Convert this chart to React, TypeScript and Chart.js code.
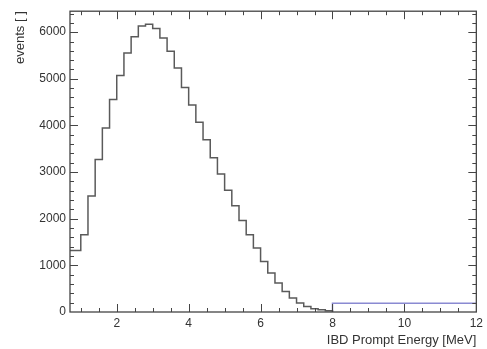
import React, { useEffect, useRef } from "react";
import { Chart, registerables } from "chart.js";
Chart.register(...registerables);

// Histogram bin edges (MeV) and counts
const binEdges = [0.7, 1.0, 1.2, 1.4, 1.6, 1.8, 2.0, 2.2, 2.4, 2.6, 2.8, 3.0, 3.2, 3.4, 3.6, 3.8, 4.0, 4.2, 4.4, 4.6, 4.8, 5.0, 5.2, 5.4, 5.6, 5.8, 6.0, 6.2, 6.4, 6.6, 6.8, 7.0, 7.2, 7.4, 7.6, 7.8, 8.0];
const binCounts = [1320, 1657, 2490, 3270, 3946, 4554, 5069, 5552, 5900, 6135, 6170, 6077, 5878, 5590, 5234, 4815, 4440, 4068, 3695, 3308, 2959, 2610, 2280, 1964, 1657, 1371, 1084, 835, 620, 440, 298, 191, 118, 69, 47, 25];
// Flat tail above 8 MeV
const tailEdges = [8, 12];
const tailCounts = [190];

const xTicks = [2, 4, 6, 8, 10, 12];
const yTicks = [0, 1000, 2000, 3000, 4000, 5000, 6000];
const xRange = [0.7, 12];
const yRange = [0, 6450];
const xMinorStep = 0.5;
const yMinorStep = 200;

const FONT = "'Liberation Sans', Arial, sans-serif";

const framePlugin = {
  id: "rootFrame",
  afterDatasetsDraw(chart: any) {
    const { ctx, chartArea: a, scales } = chart;
    const xs = scales.x;
    const ys = scales.y;
    ctx.save();
    ctx.strokeStyle = "#444";
    ctx.lineWidth = 1.3;
    ctx.strokeRect(a.left, a.top, a.right - a.left, a.bottom - a.top);
    ctx.lineWidth = 1;
    const major = 8;
    const minor = 4;
    const drawX = (v: number, len: number) => {
      const px = Math.round(xs.getPixelForValue(v)) + 0.5;
      ctx.beginPath();
      ctx.moveTo(px, a.bottom);
      ctx.lineTo(px, a.bottom - len);
      ctx.moveTo(px, a.top);
      ctx.lineTo(px, a.top + len);
      ctx.stroke();
    };
    const drawY = (v: number, len: number) => {
      const py = Math.round(ys.getPixelForValue(v)) + 0.5;
      ctx.beginPath();
      ctx.moveTo(a.left, py);
      ctx.lineTo(a.left + len, py);
      ctx.moveTo(a.right, py);
      ctx.lineTo(a.right - len, py);
      ctx.stroke();
    };
    for (let v = Math.ceil(xRange[0] / xMinorStep) * xMinorStep; v < xRange[1]; v += xMinorStep) {
      drawX(v, xTicks.includes(v) ? major : minor);
    }
    for (let v = yMinorStep; v < yRange[1]; v += yMinorStep) {
      drawY(v, yTicks.includes(v) ? major : minor);
    }
    ctx.restore();
  },
};

export default function App() {
  const ref = useRef<HTMLCanvasElement>(null);
  useEffect(() => {
    document.body.style.margin = "0";
    const histPts = binCounts.map((c, i) => ({ x: binEdges[i], y: c }));
    histPts.push({ x: binEdges[binEdges.length - 1], y: binCounts[binCounts.length - 1] });
    histPts.push({ x: binEdges[binEdges.length - 1], y: 0 });
    const tailPts = [
      { x: tailEdges[0], y: 0 },
      { x: tailEdges[0], y: tailCounts[0] },
      { x: tailEdges[1], y: tailCounts[0] },
    ];
    const chart = new Chart(ref.current!, {
      type: "line",
      data: {
        datasets: [
          {
            data: histPts,
            stepped: "before",
            borderColor: "#5a5a5a",
            borderWidth: 1.5,
            pointRadius: 0,
            fill: false,
          },
          {
            data: tailPts,
            borderColor: "#8a8ad2",
            borderWidth: 1.5,
            pointRadius: 0,
            fill: false,
          },
        ],
      },
      options: {
        animation: false,
        responsive: false,
        layout: { padding: { top: 11, right: 7, left: 0, bottom: 0 } },
        plugins: { legend: { display: false }, tooltip: { enabled: false } },
        scales: {
          x: {
            type: "linear",
            min: xRange[0],
            max: xRange[1],
            grid: { display: false, drawTicks: false },
            border: { display: false },
            afterBuildTicks: (s: any) => {
              s.ticks = xTicks.map((v) => ({ value: v }));
            },
            afterFit: (s: any) => {
              s.height = 37;
            },
            ticks: {
              padding: 4,
              color: "#333",
              font: { family: FONT, size: 12 },
              maxRotation: 0,
              autoSkip: false,
              callback: (v: any) => String(v),
            },
            title: {
              display: true,
              text: "IBD Prompt Energy [MeV]",
              align: "end",
              color: "#333",
              font: { family: FONT, size: 13 },
              padding: { top: 0, bottom: 1 },
            },
          },
          y: {
            type: "linear",
            min: yRange[0],
            max: yRange[1],
            grid: { display: false, drawTicks: false },
            border: { display: false },
            afterBuildTicks: (s: any) => {
              s.ticks = yTicks.map((v) => ({ value: v }));
            },
            afterFit: (s: any) => {
              s.width = 70;
            },
            ticks: {
              padding: 4,
              color: "#333",
              font: { family: FONT, size: 12 },
              autoSkip: false,
              callback: (v: any) => String(v),
            },
            title: {
              display: true,
              text: "events [ ]",
              align: "end",
              color: "#333",
              font: { family: FONT, size: 13 },
              padding: { top: 13, bottom: 4 },
            },
          },
        },
      },
      plugins: [framePlugin],
    });
    return () => chart.destroy();
  }, []);
  return (
    <div style={{ width: 487, height: 349, background: "#fff" }}>
      <canvas ref={ref} width={487} height={349} />
    </div>
  );
}
